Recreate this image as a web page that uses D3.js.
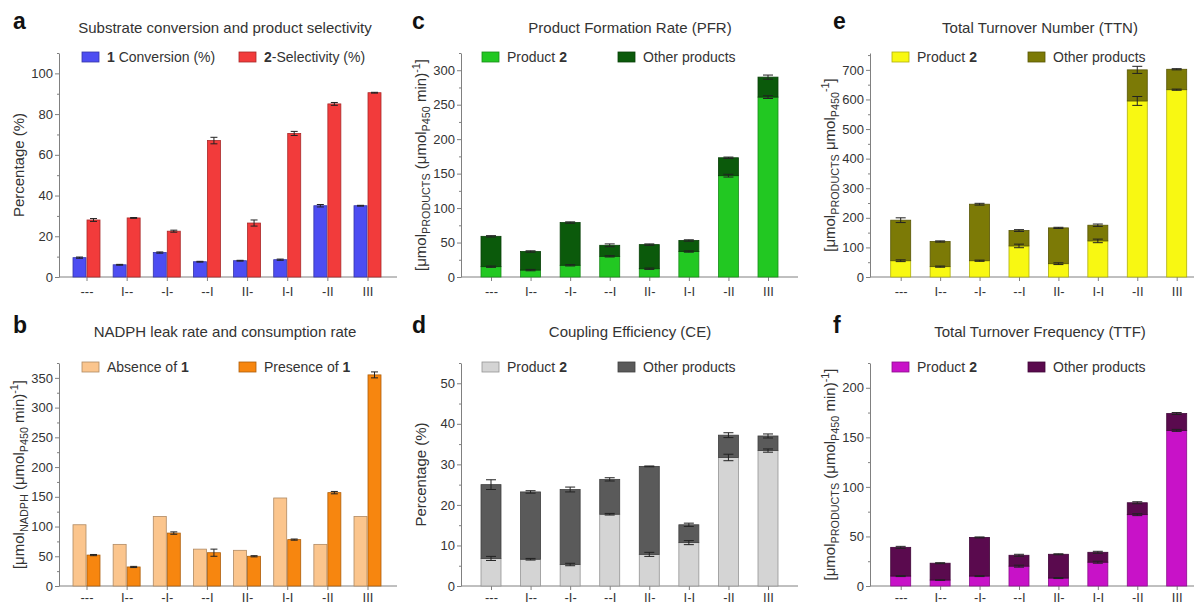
<!DOCTYPE html>
<html lang="en">
<head>
<meta charset="UTF-8">
<title>P450 variant activity panels</title>
<script src="https://d3js.org/d3.v7.min.js"></script>
<style>
  body { margin: 0; background: #fff; }
  svg { font-family: "Liberation Sans", Arial, sans-serif; }
</style>
</head>
<body>
<svg id="chart" width="1195" height="606"></svg>
<script>
// variants on the x axis
const categories = ["---", "I--", "-I-", "--I", "II-", "I-I", "-II", "III"];

// a - substrate conversion and product selectivity (%)
const conversion = [9.5, 6, 12, 7.5, 8, 8.5, 35, 35];
const conversionErr = [0.3, 0.2, 0.3, 0.2, 0.2, 0.3, 0.6, 0.2];
const selectivity = [28, 29, 22.5, 67, 26.5, 70.5, 85, 90.5];
const selectivityErr = [0.7, 0.2, 0.5, 1.6, 1.5, 1.0, 0.7, 0.2];

// b - NADPH leak / consumption rate
const nadphAbsence = [103, 70, 117, 62, 60, 148, 70, 117];
const nadphAbsenceErr = [0, 0, 0, 0, 0, 0, 0, 0];
const nadphPresence = [52, 32, 89, 56, 50, 78, 157, 355];
const nadphPresenceErr = [1, 1, 2, 6, 1, 1, 2, 5];

// c - product formation rate
const pfrProduct2 = [15, 10, 17, 30, 12, 37, 147, 261];
const pfrOther = [44, 27, 62, 16, 35, 16, 26, 29];
const pfrProduct2Err = [1, 1, 1, 1, 1, 1, 2, 2];
const pfrTotalErr = [1, 1, 1, 2, 1, 1, 1, 3];

// d - coupling efficiency (%)
const ceProduct2 = [6.8, 6.6, 5.3, 17.7, 7.8, 10.7, 31.7, 33.4];
const ceOther = [18.2, 16.6, 18.5, 8.6, 21.7, 4.4, 5.5, 3.6];
const ceProduct2Err = [0.5, 0.2, 0.3, 0.2, 0.5, 0.5, 0.8, 0.4];
const ceTotalErr = [1.2, 0.3, 0.6, 0.4, 0.1, 0.4, 0.6, 0.5];

// e - total turnover number
const ttnProduct2 = [55, 35, 55, 105, 45, 122, 595, 633];
const ttnOther = [137, 85, 191, 52, 121, 53, 105, 69];
const ttnProduct2Err = [3, 2, 2, 6, 3, 6, 15, 2];
const ttnTotalErr = [8, 2, 3, 3, 2, 4, 12, 2];

// f - total turnover frequency
const ttfProduct2 = [10, 6, 10, 20, 8, 24, 72, 157];
const ttfOther = [29, 17, 39, 11, 24, 10, 12, 17];
const ttfProduct2Err = [0.5, 0.3, 0.5, 1, 0.5, 1, 1, 1];
const ttfTotalErr = [1, 0.5, 0.5, 1, 0.5, 1, 1, 1];

// y ticks (major, minor)
const ticksA = [0, 20, 40, 60, 80, 100];
const minorA = [10, 30, 50, 70, 90, 110];
const ticksB = [0, 50, 100, 150, 200, 250, 300, 350];
const minorB = [25, 75, 125, 175, 225, 275, 325, 375];
const ticksC = [0, 50, 100, 150, 200, 250, 300];
const minorC = [25, 75, 125, 175, 225, 275, 325];
const ticksD = [0, 10, 20, 30, 40, 50];
const minorD = [5, 15, 25, 35, 45, 55];
const ticksE = [0, 100, 200, 300, 400, 500, 600, 700];
const minorE = [50, 150, 250, 350, 450, 550, 650, 750];
const ticksF = [0, 50, 100, 150, 200];
const minorF = [25, 75, 125, 175, 225];

const svg = d3.select("#chart");
const axisColor = "#808080";
const textColor = "#333";

// label parts: plain text, "sub" or "sup"
const labelPercent = [["Percentage (%)"]];
const labelNadph = [["[\u03bcmol"], ["NADPH", "sub"], [" (\u03bcmol"], ["P450", "sub"], [" min)"], ["-1", "sup"], ["]"]];
const labelRate = [["[\u03bcmol"], ["PRODUCTS", "sub"], [" (\u03bcmol"], ["P450", "sub"], [" min)"], ["-1", "sup"], ["]"]];
const labelTtn = [["[\u03bcmol"], ["PRODUCTS", "sub"], [" \u03bcmol"], ["P450", "sub"], ["-1", "sup"], ["]"]];

function richText(sel, parts, size) {
  let shift = 0;
  parts.forEach(([t, kind]) => {
    const target = kind === "sub" ? 4 : kind === "sup" ? -6 : 0;
    sel.append("tspan")
      .attr("dy", target - shift)
      .attr("font-size", kind ? size * 0.72 : size)
      .text(t);
    shift = target;
  });
}

// "*1* Conversion" style -> bold parts
function legendText(sel, str) {
  str.split("*").forEach((t, i) => {
    if (t) sel.append("tspan").attr("font-weight", i % 2 ? "bold" : "normal").text(t);
  });
}

function drawPanel(p) {
  const g = svg.append("g");
  const y = d3.scaleLinear().domain([0, p.yMax]).range([p.y0, p.yTop]);
  const x = d3.scalePoint().domain(categories).range([p.xFirst, p.xLast]);

  // panel letter + title
  g.append("text").attr("x", p.lx).attr("y", p.ly)
    .attr("font-size", 23).attr("font-weight", "bold").attr("fill", "#111").text(p.letter);
  g.append("text").attr("x", p.tx).attr("y", p.ty).attr("text-anchor", "middle")
    .attr("font-size", 15).attr("fill", textColor).text(p.title);

  // y axis
  g.append("g").attr("transform", `translate(${p.x0},0)`)
    .call(d3.axisLeft(y).tickValues(p.ticks).tickSize(4).tickSizeOuter(0).tickPadding(2).tickFormat(d3.format("d")));
  g.append("g").attr("transform", `translate(${p.x0},0)`)
    .call(d3.axisLeft(y).tickValues(p.minor).tickSize(2).tickSizeOuter(0).tickFormat(""))
    .select(".domain").remove();

  // x axis
  const xa = g.append("g").attr("transform", `translate(0,${p.y0})`)
    .call(d3.axisBottom(x).tickSize(4).tickPadding(p.xPad));
  xa.select(".domain").remove();
  g.append("line").attr("x1", p.x0).attr("x2", p.xEnd).attr("y1", p.y0).attr("y2", p.y0)
    .attr("stroke", axisColor);

  g.selectAll(".domain, .tick line").attr("stroke", axisColor);
  g.selectAll(".tick text").attr("fill", textColor).attr("font-size", 13)
    .attr("font-family", "Liberation Sans, Arial, sans-serif");

  // y label
  const yl = g.append("text")
    .attr("transform", `translate(${p.x0 - 35},${(p.y0 + p.yTop) / 2}) rotate(-90)`)
    .attr("text-anchor", "middle").attr("fill", textColor);
  richText(yl, p.ylabel, 15);

  // bars
  const bars = g.append("g");
  const errs = [];
  if (p.type === "group") {
    const bw = 13;
    p.series.forEach((s, k) => {
      const off = k === 0 ? -bw - 0.5 : 0.5;
      bars.selectAll(null).data(s.values).join("rect")
        .attr("x", (d, i) => x(categories[i]) + off)
        .attr("y", d => y(d))
        .attr("width", bw)
        .attr("height", d => p.y0 - y(d))
        .attr("fill", s.color)
        .attr("stroke", d3.color(s.color).darker(1))
        .attr("stroke-width", 0.8);
      s.values.forEach((v, i) => {
        if (s.err[i] > 0) errs.push({ cx: x(categories[i]) + off + bw / 2, v, e: s.err[i], cap: 7 });
      });
    });
  } else {
    const bw = 20;
    const [base, top] = p.series;
    bars.selectAll(null).data(base.values).join("rect")
      .attr("x", (d, i) => x(categories[i]) - bw / 2)
      .attr("y", d => y(d))
      .attr("width", bw)
      .attr("height", d => p.y0 - y(d))
      .attr("fill", base.color)
      .attr("stroke", d3.color(base.color).darker(1))
      .attr("stroke-width", 0.8);
    bars.selectAll(null).data(top.values).join("rect")
      .attr("x", (d, i) => x(categories[i]) - bw / 2)
      .attr("y", (d, i) => y(d + base.values[i]))
      .attr("width", bw)
      .attr("height", (d, i) => y(base.values[i]) - y(d + base.values[i]))
      .attr("fill", top.color)
      .attr("stroke", d3.color(top.color).darker(1))
      .attr("stroke-width", 0.8);
    base.values.forEach((v, i) => {
      errs.push({ cx: x(categories[i]), v, e: base.err[i], cap: 10 });
      errs.push({ cx: x(categories[i]), v: v + top.values[i], e: top.err[i], cap: 10 });
    });
  }

  // error bars
  const eb = g.append("g").attr("stroke", "#222").attr("stroke-width", 1);
  errs.forEach(d => {
    eb.append("line").attr("x1", d.cx).attr("x2", d.cx).attr("y1", y(d.v - d.e)).attr("y2", y(d.v + d.e));
    eb.append("line").attr("x1", d.cx - d.cap / 2).attr("x2", d.cx + d.cap / 2).attr("y1", y(d.v + d.e)).attr("y2", y(d.v + d.e));
    eb.append("line").attr("x1", d.cx - d.cap / 2).attr("x2", d.cx + d.cap / 2).attr("y1", y(d.v - d.e)).attr("y2", y(d.v - d.e));
  });

  // legend
  p.series.forEach((s, k) => {
    const lx = p.x0 + p.legendX[k];
    g.append("rect").attr("x", lx).attr("y", p.yTop - 1).attr("width", 17).attr("height", 10)
      .attr("fill", s.color).attr("stroke", d3.color(s.color).darker(1)).attr("stroke-width", 0.8);
    const t = g.append("text").attr("x", lx + 25).attr("y", p.yTop + 9)
      .attr("font-size", 14).attr("fill", textColor);
    legendText(t, s.name);
  });
}

const left = { x0: 59, xEnd: 397, xFirst: 86.5, xLast: 367.5, lx: 13, tx: 225, legendX: [23, 180] };
const mid = { x0: 461, xEnd: 798, xFirst: 491, xLast: 768, lx: 412, tx: 630, legendX: [21, 157] };
const right = { x0: 870, xEnd: 1194, xFirst: 900.7, xLast: 1176.7, lx: 833, tx: 1040, legendX: [22, 158] };
const topRow = { y0: 277, yTop: 53, ly: 29, ty: 33, xPad: 6 };
const botRow = { y0: 586, yTop: 363, ly: 333, ty: 337, xPad: 3 };

drawPanel({ ...left, ...topRow, letter: "a", title: "Substrate conversion and product selectivity",
  yMax: 110, ticks: ticksA, minor: minorA, type: "group", ylabel: labelPercent,
  series: [
    { name: "*1* Conversion (%)", values: conversion, err: conversionErr, color: "#4d4df2" },
    { name: "*2*-Selectivity (%)", values: selectivity, err: selectivityErr, color: "#f23b3b" }
  ] });

drawPanel({ ...left, ...botRow, letter: "b", title: "NADPH leak rate and consumption rate",
  yMax: 375, ticks: ticksB, minor: minorB, type: "group", ylabel: labelNadph,
  series: [
    { name: "Absence of *1*", values: nadphAbsence, err: nadphAbsenceErr, color: "#fbc58d" },
    { name: "Presence of *1*", values: nadphPresence, err: nadphPresenceErr, color: "#f7860f" }
  ] });

drawPanel({ ...mid, ...topRow, letter: "c", title: "Product Formation Rate (PFR)",
  yMax: 325, ticks: ticksC, minor: minorC, type: "stack", ylabel: labelRate,
  series: [
    { name: "Product *2*", values: pfrProduct2, err: pfrProduct2Err, color: "#22c822" },
    { name: "Other products", values: pfrOther, err: pfrTotalErr, color: "#0b5a0b" }
  ] });

drawPanel({ ...mid, ...botRow, letter: "d", title: "Coupling Efficiency (CE)",
  yMax: 55, ticks: ticksD, minor: minorD, type: "stack", ylabel: labelPercent,
  series: [
    { name: "Product *2*", values: ceProduct2, err: ceProduct2Err, color: "#d4d4d4" },
    { name: "Other products", values: ceOther, err: ceTotalErr, color: "#5a5a5a" }
  ] });

drawPanel({ ...right, ...topRow, letter: "e", title: "Total Turnover Number (TTN)",
  yMax: 757, ticks: ticksE, minor: minorE, type: "stack", ylabel: labelTtn,
  series: [
    { name: "Product *2*", values: ttnProduct2, err: ttnProduct2Err, color: "#f8f812" },
    { name: "Other products", values: ttnOther, err: ttnTotalErr, color: "#7c7a06" }
  ] });

drawPanel({ ...right, ...botRow, letter: "f", title: "Total Turnover Frequency (TTF)",
  yMax: 225, ticks: ticksF, minor: minorF, type: "stack", ylabel: labelRate,
  series: [
    { name: "Product *2*", values: ttfProduct2, err: ttfProduct2Err, color: "#c812c8" },
    { name: "Other products", values: ttfOther, err: ttfTotalErr, color: "#5a0a4e" }
  ] });
</script>
</body>
</html>
